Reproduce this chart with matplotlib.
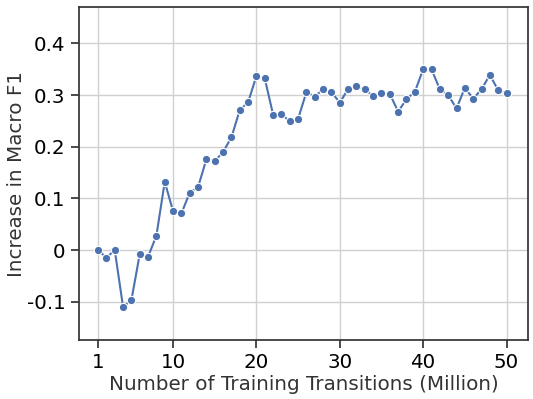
import matplotlib
matplotlib.use("Agg")
import matplotlib.pyplot as plt
from matplotlib.ticker import FuncFormatter

# training transitions (million)
transitions = list(range(1, 51))
f1_increase = [
    0.000, -0.015, 0.000, -0.110, -0.097, -0.008, -0.013, 0.028, 0.132, 0.075,
    0.071, 0.111, 0.122, 0.176, 0.172, 0.190, 0.218, 0.271, 0.286, 0.337,
    0.332, 0.262, 0.263, 0.249, 0.254, 0.306, 0.297, 0.311, 0.306, 0.285,
    0.312, 0.317, 0.311, 0.298, 0.303, 0.302, 0.268, 0.292, 0.306, 0.350,
    0.350, 0.311, 0.300, 0.274, 0.314, 0.293, 0.311, 0.339, 0.309, 0.304,
]
x_ticks = [1, 10, 20, 30, 40, 50]
y_ticks = [-0.1, 0.0, 0.1, 0.2, 0.3, 0.4]


def fmt(v, pos):
    if abs(v) < 1e-9:
        return "0"
    return f"{v:.1f}"


fig = plt.figure(figsize=(5.33, 3.99), dpi=100)
ax = fig.add_axes([0.148, 0.148, 0.843, 0.834])

ax.plot(transitions, f1_increase, color="#4c72b0", linewidth=1.5,
        marker="o", markersize=6, markeredgecolor="white", markeredgewidth=0.8)

ax.set_xlim(-1.3, 52.6)
ax.set_ylim(-0.174, 0.47)
ax.set_xticks(x_ticks)
ax.set_yticks(y_ticks)
ax.yaxis.set_major_formatter(FuncFormatter(fmt))
ax.grid(True, color="#d0d0d0", linewidth=1.0)
ax.set_axisbelow(True)

for s in ax.spines.values():
    s.set_color("#333333")
    s.set_linewidth(1.25)
ax.tick_params(axis="both", labelsize=14.3, length=6, width=1.25, color="#333333")

ax.set_xlabel("Number of Training Transitions (Million)", fontsize=14.3,
              color="#333333", labelpad=2)
ax.set_ylabel("Increase in Macro F1", fontsize=14.3, color="#333333", labelpad=1)

fig.savefig("out.png", dpi=100)
